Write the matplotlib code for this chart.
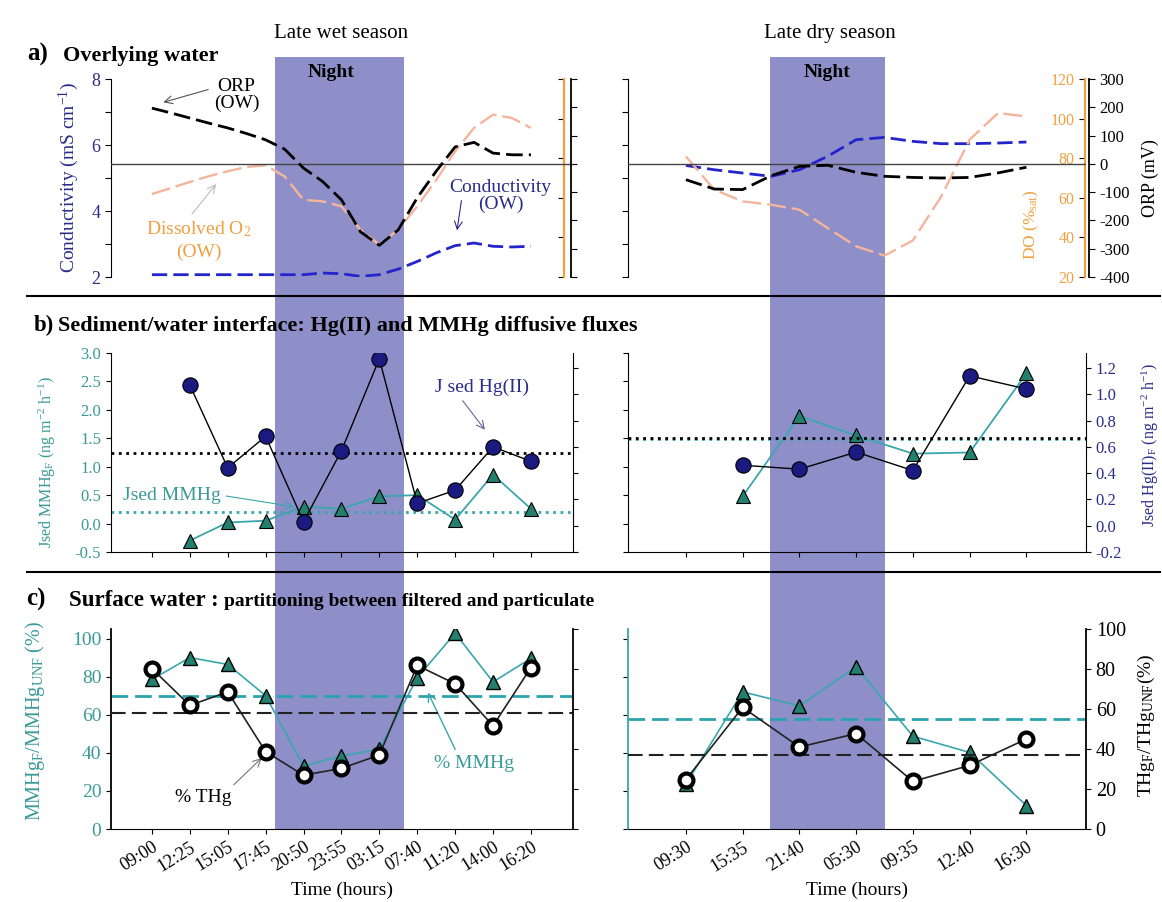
import numpy as np
import matplotlib.pyplot as plt
from matplotlib.patches import Rectangle
from matplotlib.lines import Line2D
from matplotlib.transforms import blended_transform_factory

plt.rcParams['font.family'] = ['Liberation Serif', 'DejaVu Serif']
plt.rcParams['mathtext.fontset'] = 'custom'
plt.rcParams['mathtext.rm'] = 'Liberation Serif'
plt.rcParams['mathtext.it'] = 'Liberation Serif:italic'
plt.rcParams['mathtext.bf'] = 'Liberation Serif:bold'
plt.rcParams['axes.unicode_minus'] = False

# ---- sampling times ----
wet_times = ['09:00', '12:25', '15:05', '17:45', '20:50', '23:55', '03:15',
             '07:40', '11:20', '14:00', '16:20']
dry_times = ['09:30', '15:35', '21:40', '05:30', '09:35', '12:40', '16:30']

# ---- a) overlying water probes (read every half sampling step) ----
wet_ow_pos = [0, 0.5, 1, 1.5, 2, 2.5, 3, 3.5, 4, 4.5, 5, 5.5, 6, 6.5, 7,
              7.5, 8, 8.5, 9, 9.5, 10]
wet_cond = [2.07, 2.07, 2.07, 2.07, 2.07, 2.07, 2.07, 2.07, 2.07, 2.12, 2.10,
            2.02, 2.07, 2.24, 2.47, 2.73, 2.95, 3.03, 2.93, 2.91, 2.93]
wet_orp = [197, 180, 162, 144, 127, 107, 85, 52, -15, -62, -127, -240, -288,
           -233, -120, -26, 60, 76, 38, 32, 32]
wet_do = [61.9, 64.9, 68.0, 70.9, 73.4, 75.6, 76.4, 70.8, 59.0, 58.2, 55.7,
          43.9, 36.3, 44.0, 55.7, 69.0, 83.5, 95.3, 102.0, 100.3, 95.3]

dry_ow_pos = [0, 0.5, 1, 1.5, 2, 2.5, 3, 3.5, 4, 4.5, 5, 5.5, 6]
dry_cond = [5.38, 5.25, 5.15, 5.05, 5.25, 5.66, 6.16, 6.23, 6.11, 6.04, 6.04,
            6.06, 6.09]
dry_orp = [-56, -89, -91, -42, -9, -5, -30, -44, -48, -50, -48, -32, -12]
dry_do = [80.9, 64.1, 58.2, 56.5, 54.0, 44.7, 35.5, 30.8, 38.5, 60.7, 89.4,
          102.8, 101.1]

# ---- b) diffusive fluxes (ng m-2 h-1) ----
wet_jhg = [np.nan, 1.07, 0.44, 0.68, 0.03, 0.57, 1.27, 0.17, 0.27, 0.60, 0.49]
wet_jmmhg = [np.nan, -0.30, 0.02, 0.05, 0.30, 0.26, 0.48, 0.50, 0.07, 0.86, 0.26]
dry_jhg = [np.nan, 0.46, 0.43, 0.56, 0.42, 1.14, 1.04]
dry_jmmhg = [np.nan, 0.48, 1.89, 1.55, 1.23, 1.25, 2.64]
wet_jhg_mean, wet_jmmhg_mean = 0.55, 0.21
dry_jhg_mean, dry_jmmhg_mean = 0.67, 1.48

# ---- c) filtered / unfiltered (%) ----
wet_mmhg_pct = [78.5, 90.0, 86.4, 70.0, 33.0, 38.4, 41.8, 79.4, 102.8, 77.2, 89.6]
wet_thg_pct = [80.2, 61.8, 68.6, 38.7, 26.9, 30.3, 37.0, 81.8, 72.6, 51.6, 80.7]
dry_mmhg_pct = [23.5, 72.0, 64.6, 85.2, 48.7, 40.2, 12.3]
dry_thg_pct = [24.7, 60.8, 41.0, 47.7, 23.8, 31.8, 45.0]
wet_mmhg_mean, wet_thg_mean = 70.0, 58.0
dry_mmhg_mean, dry_thg_mean = 57.5, 37.0

# night period, in sampling-step units
wet_night = (3.26, 6.64)
dry_night = (1.49, 3.51)

# colours
NAVY = '#2B2B8A'
TEAL_TXT = '#3A9A98'
TEAL_LINE = '#39A7AD'
TEAL_FILL = '#23806F'
COND = '#2424CC'
PEACH = '#F4B59C'
ORANGE = '#F0A040'
NIGHT = '#8E8FC9'

W, H = 1162, 902
fig = plt.figure(figsize=(W / 100, H / 100), dpi=100)


def px_axes(x0, y0, x1, y1):
    ax = fig.add_axes([x0 / W, 1 - y1 / H, (x1 - x0) / W, (y1 - y0) / H])
    ax.set_facecolor('none')
    return ax


def ftext(x, y, s, **kw):
    return fig.text(x / W, 1 - y / H, s, **kw)


def only_spine(ax, keep):
    for name, sp in ax.spines.items():
        sp.set_visible(name in keep)


seasons = [
    dict(times=wet_times, x0=111, x1=573, xlim=(-1.08, 11.11), night=wet_night,
         ow_pos=wet_ow_pos, cond=wet_cond, orp=wet_orp, do=wet_do,
         jhg=wet_jhg, jmmhg=wet_jmmhg, jhg_mean=wet_jhg_mean, jmmhg_mean=wet_jmmhg_mean,
         mmhg=wet_mmhg_pct, thg=wet_thg_pct, mmhg_mean=wet_mmhg_mean, thg_mean=wet_thg_mean,
         do_pos=0.9805, orp_pos=0.9957),
    dict(times=dry_times, x0=628, x1=1086, xlim=(-1.02, 7.05), night=dry_night,
         ow_pos=dry_ow_pos, cond=dry_cond, orp=dry_orp, do=dry_do,
         jhg=dry_jhg, jmmhg=dry_jmmhg, jhg_mean=dry_jhg_mean, jmmhg_mean=dry_jmmhg_mean,
         mmhg=dry_mmhg_pct, thg=dry_thg_pct, mmhg_mean=dry_mmhg_mean, thg_mean=dry_thg_mean,
         do_pos=0.998, orp_pos=1.006),
]

axes_a, axes_b, axes_c = [], [], []
for i, s in enumerate(seasons):
    x0, x1 = s['x0'], s['x1']
    n = len(s['times'])
    labelled_left = (i == 0)

    # ---------------- a) overlying water ----------------
    ax = px_axes(x0, 79, x1, 277)
    ax_do = ax.twinx()
    ax_orp = ax.twinx()
    only_spine(ax, ['left'])
    ax.set_xlim(s['xlim'])
    ax.set_xticks([])
    ax.set_ylim(2, 8)
    ax.set_yticks(range(2, 9))
    if labelled_left:
        ax.set_yticklabels(['2', '', '4', '', '6', '', '8'], color=NAVY, fontsize=13)
    else:
        ax.set_yticklabels([])
    ax.tick_params(axis='y', length=4)

    only_spine(ax_do, ['left'])
    ax_do.yaxis.set_ticks_position('left')
    ax_do.spines['left'].set_position(('axes', s['do_pos']))
    ax_do.spines['left'].set_color(ORANGE)
    ax_do.spines['left'].set_linewidth(1.6)
    ax_do.set_ylim(20, 120)
    ax_do.set_yticks(range(20, 121, 20))
    ax_do.tick_params(axis='y', length=4, labelsize=11.5, labelcolor=ORANGE)
    if labelled_left:
        ax_do.set_yticklabels([])

    only_spine(ax_orp, ['right'])
    ax_orp.spines['right'].set_position(('axes', s['orp_pos']))
    ax_orp.spines['right'].set_linewidth(1.3)
    ax_orp.set_ylim(-400, 300)
    ax_orp.set_yticks(range(-400, 301, 100))
    ax_orp.tick_params(axis='y', length=4, labelsize=12)
    if labelled_left:
        ax_orp.set_yticklabels([])
    ax_orp.axhline(0, color='#444444', lw=1)

    ax.plot(s['ow_pos'], s['cond'], color=COND, lw=2, dashes=(5.5, 2.2))
    ax_do.plot(s['ow_pos'], s['do'], color=PEACH, lw=1.7, dashes=(8, 2.5))
    ax_orp.plot(s['ow_pos'], s['orp'], color='black', lw=2, dashes=(6, 2.2))
    axes_a.append(ax)

    # ---------------- b) diffusive fluxes ----------------
    axb = px_axes(x0, 353, x1, 552)
    axb_hg = axb.twinx()
    only_spine(axb, ['left', 'bottom'])
    axb.set_xlim(s['xlim'])
    axb.set_xticks(range(n))
    axb.set_xticklabels([])
    axb.set_ylim(-0.5, 3.0)
    axb.set_yticks(np.arange(-0.5, 3.01, 0.5))
    if labelled_left:
        axb.set_yticklabels([f'{v:.1f}' for v in np.arange(-0.5, 3.01, 0.5)],
                            color=TEAL_TXT, fontsize=12)
    else:
        axb.set_yticklabels([])
    only_spine(axb_hg, ['right'])
    axb_hg.set_ylim(-0.2, 1.314)
    axb_hg.set_yticks(np.arange(-0.2, 1.21, 0.2))
    if labelled_left:
        axb_hg.set_yticklabels([])
    else:
        axb_hg.set_yticklabels([f'{v:.1f}' for v in np.arange(-0.2, 1.21, 0.2)],
                               color=NAVY, fontsize=12)

    axb_hg.axhline(s['jhg_mean'], color='black', ls=':', lw=2)
    axb.axhline(s['jmmhg_mean'], color=TEAL_LINE, ls=':', lw=2)
    axb.plot(range(n), s['jmmhg'], '-^', color=TEAL_LINE, lw=1.3, ms=10,
             mfc=TEAL_FILL, mec='black', mew=0.8)
    axb_hg.plot(range(n), s['jhg'], '-o', color='black', lw=1, ms=11,
                mfc='#1A1A80', mec='black', mew=0.8)
    axes_b.append(axb)

    # ---------------- c) surface water partitioning ----------------
    axc = px_axes(x0, 629, x1, 829)
    axc_t = axc.twinx()
    only_spine(axc, ['left', 'bottom'])
    axc.spines['left'].set_color('black' if labelled_left else TEAL_LINE)
    axc.spines['left'].set_linewidth(1.3)
    axc.set_xlim(s['xlim'])
    axc.set_xticks(range(n))
    axc.set_xticklabels(s['times'], rotation=32, ha='right', rotation_mode='anchor',
                        fontsize=13)
    axc.set_ylim(0, 105)
    axc.set_yticks(range(0, 101, 20))
    if labelled_left:
        axc.set_yticklabels([str(v) for v in range(0, 101, 20)], color=TEAL_TXT,
                            fontsize=14)
    else:
        axc.set_yticklabels([])
    only_spine(axc_t, ['right'])
    axc_t.spines['right'].set_linewidth(1.3)
    axc_t.set_ylim(0, 100)
    axc_t.set_yticks(range(0, 101, 20))
    if labelled_left:
        axc_t.set_yticklabels([])
    else:
        axc_t.tick_params(axis='y', labelsize=14.5)

    axc.axhline(s['mmhg_mean'], color='#2AA3AE', lw=2, dashes=(6, 2.5))
    axc_t.axhline(s['thg_mean'], color='#222222', lw=1.5, dashes=(7, 3))
    axc.plot(range(n), s['mmhg'], '-^', color=TEAL_LINE, lw=1.2, ms=10,
             mfc=TEAL_FILL, mec='black', mew=1)
    axc_t.plot(range(n), s['thg'], '-o', color='#222222', lw=1.2, ms=10,
               mfc='white', mec='black', mew=3)
    axes_c.append(axc)

    # night band running through the three rows
    n0, n1 = s['night']
    band = Rectangle((n0, 1 - 829 / H), n1 - n0, (829 - 57) / H,
                     transform=blended_transform_factory(axc.transData, fig.transFigure),
                     facecolor=NIGHT, edgecolor='none', zorder=-1)
    fig.add_artist(band)
    ftext((x0 + x1) / 2, 890, 'Time (hours)', fontsize=14, ha='center', va='center')

# ---- annotations ----
ax = axes_a[0]
ax.annotate('ORP\n(OW)', xy=(0.23, 7.27), xytext=(2.23, 7.52), ha='center', va='center',
            fontsize=14, linespacing=1.0,
            arrowprops=dict(arrowstyle='->', color='#555555', lw=0.8, relpos=(0, 0.7)))
ax.annotate('Dissolved O$_2$\n(OW)', xy=(1.74, 4.88), xytext=(1.23, 3.12), ha='center',
            va='center', fontsize=14, color=ORANGE, linespacing=1.4,
            arrowprops=dict(arrowstyle='->', color='#BBBBBB', lw=0.8, relpos=(0.4, 1)))
ax.annotate('Conductivity\n(OW)', xy=(8.04, 3.33), xytext=(9.2, 4.45), ha='center',
            va='center', fontsize=14, color=NAVY, linespacing=1.0,
            arrowprops=dict(arrowstyle='->', color=NAVY, lw=0.8, relpos=(0.12, 0.45),
                            patchA=None))

axb = axes_b[0]
axb.annotate('J sed Hg(II)', xy=(8.83, 1.61), xytext=(8.72, 2.40), ha='center',
             va='center', fontsize=14, color=NAVY,
             arrowprops=dict(arrowstyle='->', color='#666699', lw=0.8, relpos=(0.25, 0)))
axb.annotate('Jsed MMHg', xy=(3.82, 0.29), xytext=(0.52, 0.50), ha='center',
             va='center', fontsize=14, color=TEAL_TXT,
             arrowprops=dict(arrowstyle='->', color=TEAL_LINE, lw=0.8, relpos=(1, 0.5)))

axc = axes_c[0]
axc.annotate('% THg', xy=(2.95, 38.3), xytext=(1.36, 16.3), ha='center', va='center',
             fontsize=14,
             arrowprops=dict(arrowstyle='->', color='#777777', lw=0.8, relpos=(0.95, 1)))
axc.annotate('% MMHg', xy=(7.25, 73), xytext=(8.49, 34.6), ha='center', va='center',
             fontsize=14, color=TEAL_TXT,
             arrowprops=dict(arrowstyle='->', color=TEAL_LINE, lw=1, relpos=(0.3, 1)))

# ---- axis titles ----
ftext(69, 178, 'Conductivity (mS cm$^{-1}$)', rotation=90, ha='center', va='center',
      fontsize=14, color=NAVY)
ftext(1031, 225, 'DO (%$_{\\mathrm{sat}}$)', rotation=90, ha='center', va='center',
      fontsize=12.5, color=ORANGE)
ftext(1150, 178, 'ORP (mV)', rotation=90, ha='center', va='center', fontsize=13)
ftext(47, 462, 'Jsed MMHg$_{\\mathrm{F}}$ (ng m$^{-2}$ h$^{-1}$)', rotation=90,
      ha='center', va='center', fontsize=11.5, color=TEAL_TXT)
ftext(1150, 445, 'Jsed Hg(II)$_{\\mathrm{F}}$ (ng m$^{-2}$ h$^{-1}$)', rotation=90,
      ha='center', va='center', fontsize=11.5, color=NAVY)
ftext(35, 721, 'MMHg$_{\\mathrm{F}}$/MMHg$_{\\mathrm{UNF}}$ (%)', rotation=90,
      ha='center', va='center', fontsize=14.5, color=TEAL_TXT)
ftext(1146, 725, 'THg$_{\\mathrm{F}}$/THg$_{\\mathrm{UNF}}$(%)', rotation=90,
      ha='center', va='center', fontsize=14)

# ---- headings ----
ftext(341, 38, 'Late wet season', fontsize=15, ha='center', va='baseline')
ftext(830, 38, 'Late dry season', fontsize=15, ha='center', va='baseline')
ftext(331, 77, 'Night', fontsize=14, fontweight='bold', ha='center', va='baseline')
ftext(827, 77, 'Night', fontsize=14, fontweight='bold', ha='center', va='baseline')

ftext(27, 61, 'a)', fontsize=18, fontweight='bold', va='baseline')
ftext(63, 61, 'Overlying water', fontsize=16, fontweight='bold', va='baseline')
ftext(34, 331, 'b)', fontsize=16.5, fontweight='bold', va='baseline')
ftext(58, 331, 'Sediment/water interface: Hg(II) and MMHg diffusive fluxes',
      fontsize=16, fontweight='bold', va='baseline')
ftext(26, 606, 'c)', fontsize=18, fontweight='bold', va='baseline')
ftext(69, 606, 'Surface water :', fontsize=16.5, fontweight='bold', va='baseline')
ftext(224, 606, 'partitioning between filtered and particulate', fontsize=14,
      fontweight='bold', va='baseline')

# separators between rows
for y in (296, 572):
    fig.add_artist(Line2D([27 / W, 1160 / W], [1 - y / H, 1 - y / H], color='black',
                          lw=1.5, zorder=5))

fig.savefig('out.png', dpi=100)
